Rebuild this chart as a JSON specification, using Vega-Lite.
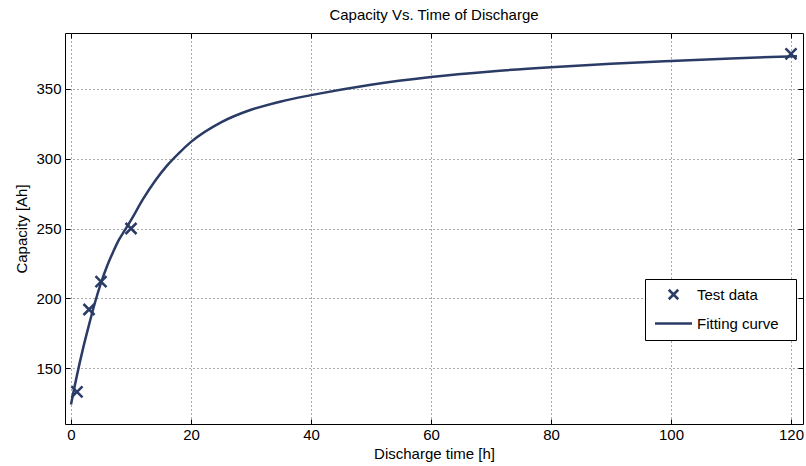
{
  "$schema": "https://vega.github.io/schema/vega-lite/v6.json",
  "width": 738,
  "height": 391,
  "autosize": {"type": "none"},
  "padding": {"left": 65, "top": 33, "right": 3, "bottom": 42},
  "background": "white",
  "config": {
    "font": "Liberation Sans",
    "view": {"stroke": "black", "strokeWidth": 1}
  },
  "title": {"text": "Capacity Vs. Time of Discharge", "fontSize": 15, "fontWeight": "normal", "font": "Liberation Sans", "color": "black", "offset": 10},
  "datasets": {
    "curve": [
      {"t": 0, "cap": 124}, {"t": 1, "cap": 145}, {"t": 2, "cap": 164}, {"t": 3, "cap": 181},
      {"t": 4, "cap": 197}, {"t": 5, "cap": 211}, {"t": 6, "cap": 223}, {"t": 7, "cap": 233},
      {"t": 8, "cap": 242}, {"t": 9, "cap": 249}, {"t": 10, "cap": 256}, {"t": 12, "cap": 271},
      {"t": 14, "cap": 284}, {"t": 16, "cap": 295}, {"t": 18, "cap": 304}, {"t": 20, "cap": 312},
      {"t": 25, "cap": 326}, {"t": 30, "cap": 335}, {"t": 35, "cap": 341}, {"t": 40, "cap": 345.5},
      {"t": 50, "cap": 353}, {"t": 60, "cap": 358.5}, {"t": 70, "cap": 362.5}, {"t": 80, "cap": 365.5},
      {"t": 90, "cap": 368}, {"t": 100, "cap": 370}, {"t": 110, "cap": 371.8}, {"t": 121, "cap": 373.4}
    ],
    "test": [
      {"t": 1, "cap": 133, "series": "Test data"},
      {"t": 3, "cap": 192, "series": "Test data"},
      {"t": 5, "cap": 212, "series": "Test data"},
      {"t": 10, "cap": 250, "series": "Test data"},
      {"t": 120, "cap": 375, "series": "Test data"}
    ]
  },
  "layer": [
    {
      "data": {"name": "curve"},
      "mark": {"type": "line", "color": "#2a3b66", "strokeWidth": 2.5, "interpolate": "monotone"},
      "encoding": {
        "x": {"field": "t", "type": "quantitative",
          "scale": {"domain": [-1, 122], "nice": false, "zero": false},
          "axis": {"orient": "bottom", "values": [0, 20, 40, 60, 80, 100, 120], "grid": true, "gridDash": [1, 3], "gridColor": "#555", "gridWidth": 1,
            "tickSize": -5, "tickColor": "black", "domain": false, "labelFontSize": 15, "labelColor": "black", "labelPadding": 8,
            "title": "Discharge time [h]", "titleFontSize": 15, "titleFontWeight": "normal", "titleColor": "black", "titlePadding": 4}},
        "y": {"field": "cap", "type": "quantitative",
          "scale": {"domain": [110, 390], "nice": false, "zero": false},
          "axis": {"orient": "left", "values": [150, 200, 250, 300, 350], "grid": true, "gridDash": [1, 3], "gridColor": "#555", "gridWidth": 1,
            "tickSize": -5, "tickColor": "black", "domain": false, "labelFontSize": 15, "labelColor": "black", "labelPadding": 9,
            "title": "Capacity [Ah]", "titleFontSize": 15, "titleFontWeight": "normal", "titleColor": "black", "titlePadding": 6}}
      }
    },
    {
      "data": {"name": "test"},
      "mark": {"type": "point", "filled": false, "strokeWidth": 2.5, "size": 121, "opacity": 1},
      "encoding": {
        "x": {"field": "t", "type": "quantitative",
          "axis": {"orient": "top", "values": [0, 20, 40, 60, 80, 100, 120], "grid": false, "labels": false, "tickSize": -5, "tickColor": "black", "domain": false, "title": null}},
        "y": {"field": "cap", "type": "quantitative",
          "axis": {"orient": "right", "values": [150, 200, 250, 300, 350], "grid": false, "labels": false, "tickSize": -5, "tickColor": "black", "domain": false, "title": null}},
        "color": {"field": "series", "type": "nominal",
          "scale": {"domain": ["Test data", "Fitting curve"], "range": ["#2a3b66", "#2a3b66"]},
          "legend": {"title": null, "orient": "none", "legendX": 580, "legendY": 246,
            "padding": 8, "rowPadding": 11, "symbolSize": 90, "symbolOffset": 13, "labelOffset": 16,
            "symbolStrokeWidth": 2.5, "symbolFillColor": "transparent", "symbolStrokeColor": "#2a3b66",
            "labelFontSize": 15, "labelColor": "black", "labelExpr": "datum.label + '\u00a0\u00a0\u200b'",
            "strokeColor": "black", "fillColor": "white", "cornerRadius": 0}},
        "shape": {"field": "series", "type": "nominal",
          "scale": {"domain": ["Test data", "Fitting curve"], "range": ["M-1,-1L1,1M-1,1L1,-1", "M-3.9,0L3.9,0"]}}
      }
    }
  ],
  "resolve": {"axis": {"x": "independent", "y": "independent"}}
}
